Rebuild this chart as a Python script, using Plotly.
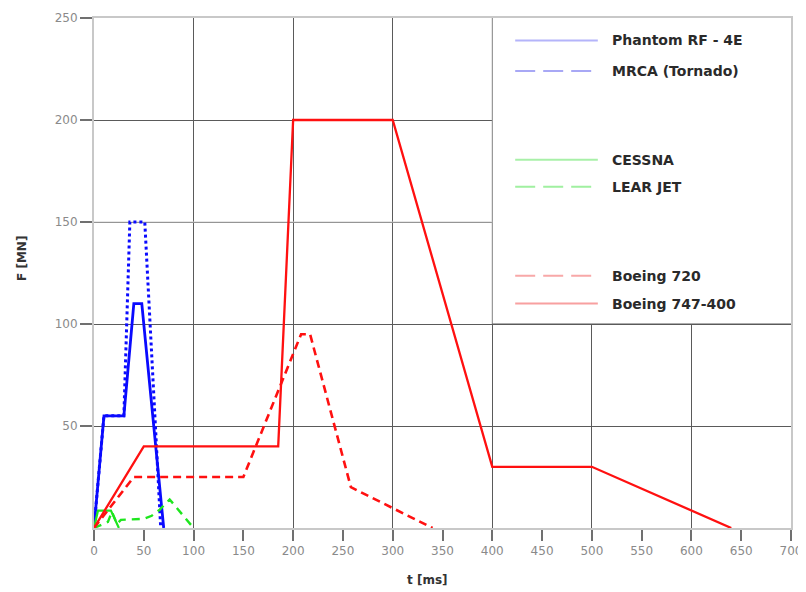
import plotly.graph_objects as go

# ---- data (t in ms, F in MN) ----
phantom_t = [0, 10, 30, 40, 48, 70]
phantom_f = [0, 55, 55, 110, 110, 0]

mrca_t = [0, 10, 30, 36, 51, 67]
mrca_f = [0, 55, 55, 150, 150, 0]

cessna_t = [0, 4, 17, 25]
cessna_f = [0, 8.5, 8.5, 0]

learjet_t = [0, 14, 18, 23, 27, 50, 58, 66, 76, 100]
learjet_f = [0, 3, 8, 2, 4, 4.5, 6, 9, 14, 0]

b720_t = [0, 40, 150, 208, 217, 258, 340]
b720_f = [0, 25, 25, 95, 95, 20, 0]

b747_t = [0, 46, 50, 185, 200, 300, 400, 500, 640]
b747_f = [0, 37, 40, 40, 200, 200, 30, 30, 0]

x_ticks = list(range(0, 701, 50))
y_ticks = [50, 100, 150, 200, 250]

legend_names = ["Phantom RF - 4E", "MRCA (Tornado)", "CESSNA", "LEAR JET",
                "Boeing 720", "Boeing 747-400"]

BLUE = "#0a0aff"
GREEN = "#1ee61e"
RED = "#ff1010"

fig = go.Figure()

series = [
    (phantom_t, phantom_f, BLUE, "solid", 2.8),
    (mrca_t, mrca_f, BLUE, "3px,3px", 3.0),
    (cessna_t, cessna_f, GREEN, "solid", 2.2),
    (learjet_t, learjet_f, GREEN, "8px,6px", 2.4),
    (b720_t, b720_f, RED, "8px,5px", 2.6),
    (b747_t, b747_f, RED, "solid", 2.3),
]
for (t, f, c, d, w), name in zip(series, legend_names):
    fig.add_trace(go.Scatter(x=t, y=f, mode="lines", name=name,
                             line=dict(color=c, dash=d, width=w),
                             showlegend=False))

# invisible trace so the overlay axis (vertical gridlines every 100 ms) is drawn
fig.add_trace(go.Scatter(x=[None], y=[None], xaxis="x2", showlegend=False,
                         hoverinfo="skip"))

GRID = "#5a5a5a"
AXL = "#c8c8c8"
TICKC = "#8a8a8a"

shapes = []
# white legend panel over the grid (upper right)
shapes.append(dict(type="rect", xref="x", yref="y", x0=400, x1=700, y0=100, y1=250,
                   fillcolor="white", line=dict(width=0), layer="between"))
shapes.append(dict(type="line", xref="x", yref="y", x0=400, x1=400, y0=100, y1=250,
                   line=dict(color="#8a8a8a", width=1), layer="between"))
shapes.append(dict(type="line", xref="x", yref="y", x0=400, x1=700, y0=100, y1=100,
                   line=dict(color=GRID, width=1), layer="between"))
# lighter gridline at 150
shapes.append(dict(type="line", xref="x", yref="y", x0=0, x1=400, y0=150, y1=150,
                   line=dict(color="#cfcfcf", width=1.2), layer="between"))

# legend samples
leg_colors = ["#b4b4fa", "#a8a8f5", "#a8f0a8", "#a0f0a0", "#f8a8a8", "#f8a0a0"]
leg_dash = ["solid", "20px,8px", "solid", "20px,8px", "20px,8px", "solid"]
leg_y = [239, 224, 180.5, 167.3, 123.7, 110]
annotations = []
for name, c, d, yy in zip(legend_names, leg_colors, leg_dash, leg_y):
    shapes.append(dict(type="line", xref="x", yref="y", x0=423, x1=506, y0=yy, y1=yy,
                       line=dict(color=c, width=2, dash=d), layer="above"))
    annotations.append(dict(x=518, y=yy, xref="x", yref="y", text=name, showarrow=False,
                            xanchor="left", yanchor="middle",
                            font=dict(family="DejaVu Sans", size=14, color="#2a2a2a",
                                      weight="bold")))

annotations.append(dict(x=-0.103, xref="paper", y=132, yref="y", text="F [MN]",
                        textangle=-90, showarrow=False, xanchor="center", yanchor="middle",
                        font=dict(family="DejaVu Sans", size=12, color="#333",
                                  weight="bold")))
annotations.append(dict(x=335, xref="x", y=-0.102, yref="paper", text="t [ms]",
                        showarrow=False, xanchor="center", yanchor="middle",
                        font=dict(family="DejaVu Sans", size=12, color="#333",
                                  weight="bold")))

# page body has an 8px margin, so the figure is sized/margined to compensate
fig.update_layout(
    width=798, height=584,
    margin=dict(l=86, r=15, t=10, b=64, autoexpand=False),
    paper_bgcolor="white", plot_bgcolor="white",
    shapes=shapes, annotations=annotations,
    showlegend=False,
    xaxis=dict(range=[0, 700], tickvals=x_ticks, ticktext=[str(v) for v in x_ticks],
               showgrid=False, zeroline=False, showline=True, linecolor=AXL, linewidth=2,
               mirror=True, ticks="outside", ticklen=11, tickcolor="#707070", tickwidth=1.5,
               automargin=False,
               tickfont=dict(family="DejaVu Sans", size=12, color=TICKC)),
    xaxis2=dict(range=[0, 700], overlaying="x", dtick=100, tick0=0, showgrid=True,
                gridcolor=GRID, gridwidth=1, showticklabels=False, ticks="",
                zeroline=False, showline=False),
    yaxis=dict(range=[0, 250], tickvals=y_ticks, showgrid=True, gridcolor=GRID, gridwidth=1,
               zeroline=False, showline=True, linecolor=AXL, linewidth=2, mirror=True,
               ticks="outside", ticklen=12, tickcolor="#707070", tickwidth=1.5,
               automargin=False,
               tickfont=dict(family="DejaVu Sans", size=12, color=TICKC)),
)

fig.write_html("out.html")
